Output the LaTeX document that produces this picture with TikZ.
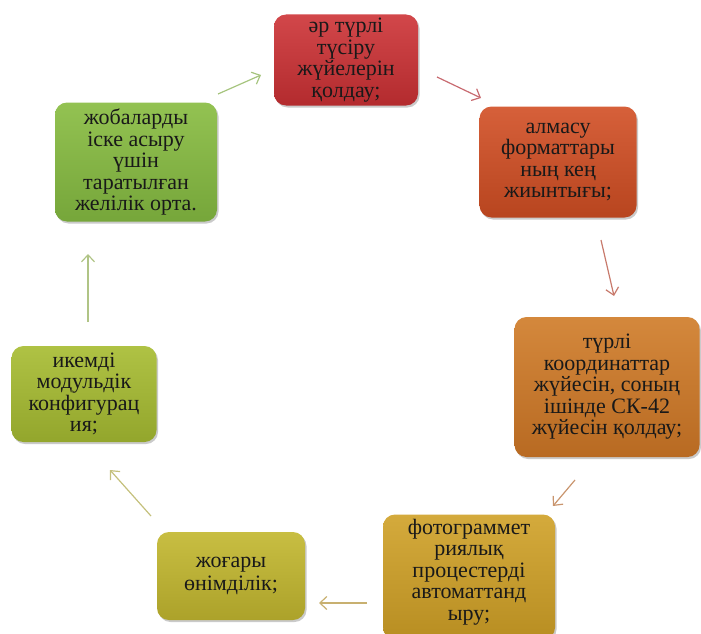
\documentclass[tikz,border=0pt]{standalone}
\usepackage{fontspec}
\setmainfont{Liberation Serif}
\usetikzlibrary{arrows.meta,shadows}
\definecolor{c1t}{HTML}{D2474A}\definecolor{c1b}{HTML}{B32B2E}
\definecolor{c2t}{HTML}{D6603A}\definecolor{c2b}{HTML}{B8451F}
\definecolor{c3t}{HTML}{D4883C}\definecolor{c3b}{HTML}{B86A22}
\definecolor{c4t}{HTML}{D4AA3C}\definecolor{c4b}{HTML}{B88E22}
\definecolor{c5t}{HTML}{C8BE42}\definecolor{c5b}{HTML}{ACA22A}
\definecolor{c6t}{HTML}{AFC244}\definecolor{c6b}{HTML}{93A62C}
\definecolor{c7t}{HTML}{93C252}\definecolor{c7b}{HTML}{76A63A}
\definecolor{a1}{HTML}{C86A70}\definecolor{a2}{HTML}{C87A6C}
\definecolor{a3}{HTML}{C9956E}\definecolor{a4}{HTML}{C8B070}
\definecolor{a5}{HTML}{C4C07C}\definecolor{a6}{HTML}{B0C486}
\definecolor{a7}{HTML}{A6C47E}
\tikzset{
  boxtext/.style={align=center, inner sep=0pt,
    font=\fontsize{22}{21.5}\selectfont, text=black!90},
  cyclebox/.style={boxtext, rounded corners=12pt,
    drop shadow={shadow xshift=1.5pt,shadow yshift=-2pt,opacity=0.35,fill=black!60}},
  cyclearrow/.style={line width=1.2pt, -{Straight Barb[length=7pt,width=13pt]}},
}
\begin{document}
\begin{tikzpicture}[x=1pt,y=-1pt]
\useasboundingbox (0,0) rectangle (701,634);
\clip (0,0) rectangle (701,634);
\node[cyclebox, top color=c1t, bottom color=c1b, minimum width=144pt, minimum height=91pt] (b1) at (346,60)
  {әр түрлі\\түсіру\\жүйелерін\\қолдау;};
\node[cyclebox, top color=c2t, bottom color=c2b, minimum width=157pt, minimum height=111pt] (b2) at (558,162)
  {алмасу\\форматтары\\ның кең\\жиынтығы;};
\node[cyclebox, top color=c3t, bottom color=c3b, minimum width=185pt, minimum height=140pt] (b3) at (607,387)
  {түрлі\\координаттар\\жүйесін, соның\\ішінде СК-42\\жүйесін қолдау;};
\node[cyclebox, top color=c4t, bottom color=c4b, minimum width=172pt, minimum height=125pt] (b4) at (469,577)
  {};
\node[boxtext] (t4) at (469,572)
  {фотограммет\\риялық\\процестерді\\автоматтанд\\ыру;};
\node[cyclebox, top color=c5t, bottom color=c5b, minimum width=148pt, minimum height=88pt,
  font=\fontsize{22}{23}\selectfont] (b5) at (231,576)
  {жоғары\\өнімділік;};
\node[cyclebox, top color=c6t, bottom color=c6b, minimum width=145pt, minimum height=96pt] (b6) at (84,394)
  {икемді\\модульдік\\конфигурац\\ия;};
\node[cyclebox, top color=c7t, bottom color=c7b, minimum width=162pt, minimum height=119pt] (b7) at (136,162)
  {жобаларды\\іске асыру\\үшін\\таратылған\\желілік орта.};
\coordinate (s1) at (437,77); \coordinate (e1) at (481,98);
\coordinate (s2) at (601,240); \coordinate (e2) at (614,296);
\coordinate (s3) at (575,480); \coordinate (e3) at (553,506);
\coordinate (s4) at (367,603); \coordinate (e4) at (319,603);
\coordinate (s5) at (151,516); \coordinate (e5) at (110,470);
\coordinate (s6) at (88,322); \coordinate (e6) at (88,254);
\coordinate (s7) at (218,94); \coordinate (e7) at (261,75);
\draw[cyclearrow, a1] (s1) -- (e1);
\draw[cyclearrow, a2] (s2) -- (e2);
\draw[cyclearrow, a3] (s3) -- (e3);
\draw[cyclearrow, a4] (s4) -- (e4);
\draw[cyclearrow, a5] (s5) -- (e5);
\draw[cyclearrow, a6] (s6) -- (e6);
\draw[cyclearrow, a7] (s7) -- (e7);
\end{tikzpicture}
\end{document}
